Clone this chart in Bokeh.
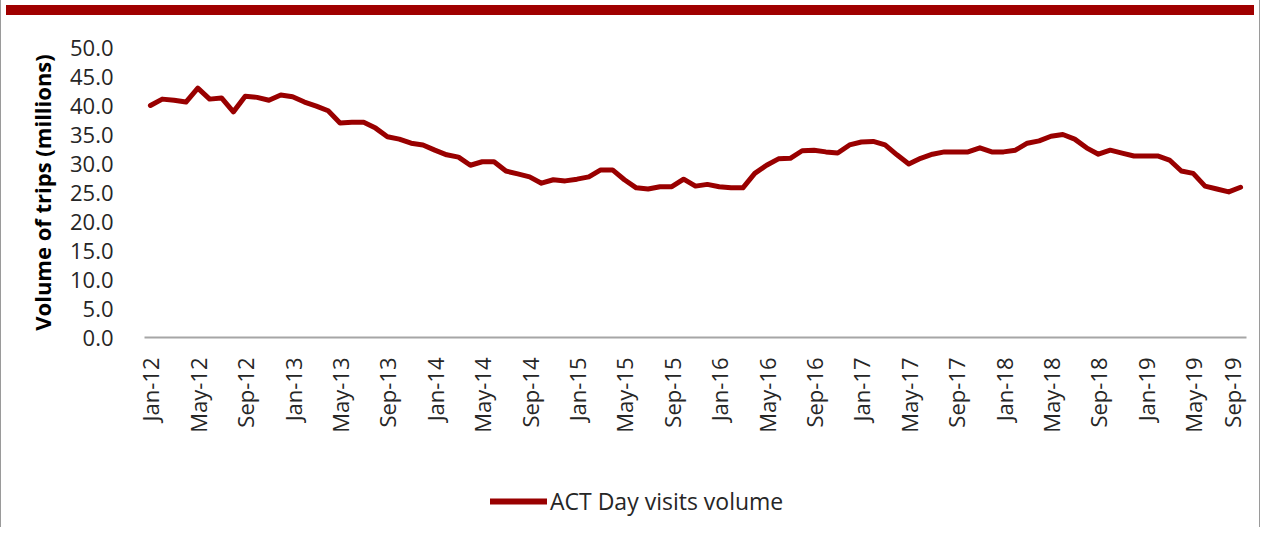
from bokeh.plotting import figure
from bokeh.models import (FixedTicker, Range1d, Legend, LegendItem, Div,
                          ColumnDataSource, PrintfTickFormatter)
from bokeh.layouts import column
from bokeh.embed import file_html
from bokeh.resources import INLINE

# Monthly ACT day visits volume (millions), Jan-12 .. Sep-19
months = [
    "Jan-12", "Feb-12", "Mar-12", "Apr-12", "May-12", "Jun-12", "Jul-12", "Aug-12", "Sep-12", "Oct-12", "Nov-12", "Dec-12",
    "Jan-13", "Feb-13", "Mar-13", "Apr-13", "May-13", "Jun-13", "Jul-13", "Aug-13", "Sep-13", "Oct-13", "Nov-13", "Dec-13",
    "Jan-14", "Feb-14", "Mar-14", "Apr-14", "May-14", "Jun-14", "Jul-14", "Aug-14", "Sep-14", "Oct-14", "Nov-14", "Dec-14",
    "Jan-15", "Feb-15", "Mar-15", "Apr-15", "May-15", "Jun-15", "Jul-15", "Aug-15", "Sep-15", "Oct-15", "Nov-15", "Dec-15",
    "Jan-16", "Feb-16", "Mar-16", "Apr-16", "May-16", "Jun-16", "Jul-16", "Aug-16", "Sep-16", "Oct-16", "Nov-16", "Dec-16",
    "Jan-17", "Feb-17", "Mar-17", "Apr-17", "May-17", "Jun-17", "Jul-17", "Aug-17", "Sep-17", "Oct-17", "Nov-17", "Dec-17",
    "Jan-18", "Feb-18", "Mar-18", "Apr-18", "May-18", "Jun-18", "Jul-18", "Aug-18", "Sep-18", "Oct-18", "Nov-18", "Dec-18",
    "Jan-19", "Feb-19", "Mar-19", "Apr-19", "May-19", "Jun-19", "Jul-19", "Aug-19", "Sep-19",
]
volume = [
    40.0, 41.1, 40.9, 40.6, 43.0, 41.1, 41.3, 38.9, 41.6, 41.4, 40.9, 41.8,
    41.5, 40.6, 39.9, 39.1, 37.0, 37.1, 37.1, 36.1, 34.6, 34.2, 33.5, 33.2,
    32.3, 31.5, 31.1, 29.7, 30.3, 30.3, 28.7, 28.2, 27.7, 26.6, 27.2, 27.0,
    27.3, 27.7, 28.9, 28.9, 27.2, 25.8, 25.6, 26.0, 26.0, 27.3, 26.1, 26.4,
    26.0, 25.8, 25.8, 28.3, 29.7, 30.8, 30.9, 32.2, 32.3, 32.0, 31.8, 33.2,
    33.7, 33.8, 33.2, 31.5, 29.9, 30.9, 31.6, 32.0, 32.0, 32.0, 32.7, 32.0,
    32.0, 32.3, 33.5, 33.9, 34.7, 35.0, 34.2, 32.7, 31.6, 32.3, 31.8, 31.3,
    31.3, 31.3, 30.6, 28.7, 28.3, 26.1, 25.6, 25.1, 25.9,
]
tick_step = 4
y_ticks = [0, 5, 10, 15, 20, 25, 30, 35, 40, 45, 50]
series_name = "ACT Day visits volume"
y_title = "Volume of trips (millions)"

RED = "#990000"
TEXT = "#262626"
FONT = "Open Sans"
LINE_W = 5

idx = list(range(len(months)))
src = ColumnDataSource(data=dict(x=idx, y=volume, m=months))

p = figure(width=1246, height=447, output_backend="svg", toolbar_location=None,
           x_range=Range1d(-0.5, len(months) - 0.5), y_range=Range1d(0, 50),
           min_border_left=143, min_border_right=1, min_border_top=27,
           min_border_bottom=130)
p.outline_line_color = None
p.grid.grid_line_color = None
p.background_fill_color = "white"
p.border_fill_color = "white"

r = p.line("x", "y", source=src, line_color=RED, line_width=LINE_W,
           line_join="round", line_cap="round")

# x axis
xt = idx[::tick_step]
p.xaxis.ticker = FixedTicker(ticks=xt)
p.xaxis.major_label_overrides = {i: months[i] for i in xt}
p.xaxis.major_label_orientation = 1.5707963
p.xaxis.axis_line_color = "#A6A6A6"
p.xaxis.axis_line_width = 2
p.xaxis.major_tick_line_color = None
p.xaxis.minor_tick_line_color = None
p.xaxis.major_label_text_font = FONT
p.xaxis.major_label_text_font_size = "22px"
p.xaxis.major_label_text_color = TEXT
p.xaxis.major_label_standoff = 14

# y axis
p.yaxis.ticker = FixedTicker(ticks=y_ticks)
p.yaxis.formatter = PrintfTickFormatter(format="%.1f")
p.yaxis.axis_line_color = None
p.yaxis.major_tick_line_color = None
p.yaxis.minor_tick_line_color = None
p.yaxis.major_label_text_font = FONT
p.yaxis.major_label_text_font_size = "22px"
p.yaxis.major_label_text_color = TEXT
p.yaxis.major_label_standoff = 25
p.yaxis.axis_label = y_title
p.yaxis.axis_label_text_font = FONT
p.yaxis.axis_label_text_font_style = "bold"
p.yaxis.axis_label_text_font_size = "22px"
p.yaxis.axis_label_text_color = "#000000"
p.yaxis.axis_label_standoff = 10

# legend strip (separate figure so the legend is not clipped by the frame);
# the proxy line uses the same data but its ranges keep it out of view
lf = figure(width=1246, height=60, output_backend="svg", toolbar_location=None,
            x_range=Range1d(1000, 1001), y_range=Range1d(1000, 1001), min_border=0,
            x_axis_location=None, y_axis_location=None)
lf.outline_line_color = None
lf.grid.grid_line_color = None
lr = lf.line("x", "y", source=src, line_color=RED, line_width=6, line_cap="round")
legend = Legend(items=[LegendItem(label=series_name, renderers=[lr])],
                location=(346, 10), orientation="horizontal",
                border_line_color=None, background_fill_alpha=0,
                padding=0, margin=0, glyph_width=57, glyph_height=30,
                label_standoff=3, label_text_font=FONT,
                label_text_font_size="23px", label_text_color=TEXT)
lf.add_layout(legend, "center")

band = Div(width=1248, height=10, styles={"background-color": "#A00000"})
layout = column(band, p, lf, spacing=0,
                styles={"border-left": "1px solid #9A9A9A",
                        "border-right": "1px solid #9A9A9A"})

open("out.html", "w").write(file_html(layout, INLINE))
